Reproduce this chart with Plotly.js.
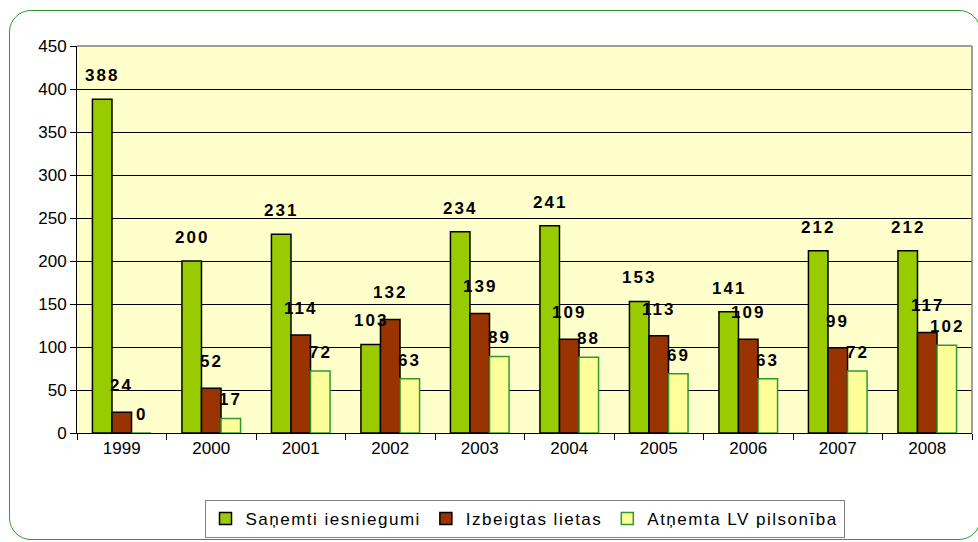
<!DOCTYPE html>
<html>
<head>
<meta charset="utf-8">
<script src="https://cdn.plot.ly/plotly-3.0.1.min.js"></script>
<style>
  html, body { margin: 0; padding: 0; background: #ffffff; width: 978px; height: 542px; overflow: hidden; }
  #frame { position: absolute; left: 9px; top: 10px; width: 972px; height: 530px; border: 1.5px solid #2e9a2e; border-radius: 22px; box-sizing: border-box; }
  #chart { position: absolute; left: 0; top: 0; width: 978px; height: 542px; }
  text.annotation-text { letter-spacing: 2px; }
  text.legendtext { letter-spacing: 1.5px; }
</style>
</head>
<body>
<div id="frame"></div>
<div id="chart"></div>
<script>
const years = ["1999", "2000", "2001", "2002", "2003", "2004", "2005", "2006", "2007", "2008"];
const received = [388, 200, 231, 103, 234, 241, 153, 141, 212, 212];
const closed = [24, 52, 114, 132, 139, 109, 113, 109, 99, 117];
const revoked = [0, 17, 72, 63, 89, 88, 69, 63, 72, 102];
const seriesNames = ["Saņemti iesniegumi", "Izbeigtas lietas", "Atņemta LV pilsonība"];
const yTicks = [0, 50, 100, 150, 200, 250, 300, 350, 400, 450];

const FAMILY = "Liberation Sans, Arial, sans-serif";
const labelFont = { family: FAMILY, size: 17, color: "#000000", weight: "bold" };

const W = 978, H = 542;
const margin = { l: 77, r: 6, t: 46, b: 109 };
const bargap = 0.345;

function barTrace(name, values, fill, lineColor) {
  return {
    type: "bar",
    name: name,
    x: years,
    y: values,
    marker: { color: fill, line: { color: lineColor, width: 1.5 } },
    cliponaxis: false,
    hoverinfo: "x+y+name"
  };
}

const allSeries = [received, closed, revoked];
const labelLift = [12, 15, 7];
const data = [
  barTrace(seriesNames[0], received, "#99cc00", "#000000"),
  barTrace(seriesNames[1], closed, "#993300", "#000000"),
  barTrace(seriesNames[2], revoked, "#ffff99", "#2e9a2e")
];

// value labels above each bar, placed via the axes (category index + data y)
const groupWidth = 1 - bargap;
const annotations = [];
allSeries.forEach((vals, si) => {
  vals.forEach((v, i) => {
    annotations.push({
      x: i + (si - (allSeries.length - 1) / 2) * groupWidth / allSeries.length,
      y: v, xref: "x", yref: "y",
      text: String(v), showarrow: false,
      xanchor: "center", yanchor: "bottom",
      xshift: 0,
      yshift: labelLift[si],
      font: labelFont
    });
  });
});

const layout = {
  width: W,
  height: H,
  margin: margin,
  paper_bgcolor: "rgba(0,0,0,0)",
  plot_bgcolor: "#ffffcc",
  barmode: "group",
  bargap: bargap,
  bargroupgap: 0,
  font: { family: FAMILY, size: 17, color: "#000000" },
  xaxis: {
    type: "category",
    range: [-0.5, years.length - 0.5],
    tickvals: years,
    ticktext: years,
    ticks: "outside",
    tickson: "boundaries",
    ticklen: 6,
    tickcolor: "#000000",
    showline: true,
    linecolor: "#000000",
    linewidth: 1,
    tickfont: { size: 17 },
    showgrid: false,
    automargin: false
  },
  yaxis: {
    range: [0, 450],
    tickvals: yTicks,
    ticktext: yTicks.map(String),
    ticks: "outside",
    ticklen: 6,
    tickcolor: "#000000",
    showline: true,
    linecolor: "#000000",
    linewidth: 1,
    showgrid: true,
    gridcolor: "#000000",
    gridwidth: 1,
    zeroline: false,
    tickfont: { size: 17 },
    fixedrange: true,
    automargin: false
  },
  annotations: annotations,
  shapes: [
    { type: "line", xref: "paper", yref: "paper", x0: 0, x1: 1, y0: 1, y1: 1, line: { color: "#808080", width: 1.5 } },
    { type: "line", xref: "paper", yref: "paper", x0: 1, x1: 1, y0: 0, y1: 1, line: { color: "#808080", width: 1.5 } }
  ],
  showlegend: true,
  legend: {
    orientation: "h",
    x: 0.5,
    xanchor: "center",
    yref: "container",
    y: 1 - 500 / H,
    yanchor: "top",
    bordercolor: "#808080",
    borderwidth: 1,
    bgcolor: "#ffffff",
    font: { size: 17 },
    itemwidth: 30,
    traceorder: "normal"
  }
};

Plotly.newPlot("chart", data, layout, { displayModeBar: false, staticPlot: true });
</script>
</body>
</html>
